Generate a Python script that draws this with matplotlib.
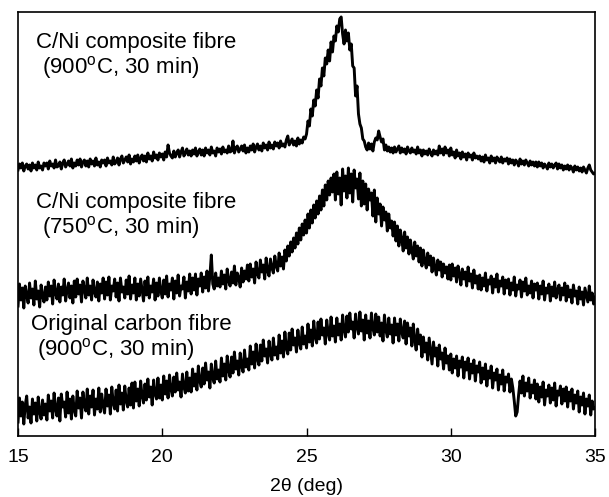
import numpy as np
import matplotlib
matplotlib.use("Agg")
import matplotlib.pyplot as plt

plt.rcParams['font.family'] = ['Liberation Sans', 'DejaVu Sans']
plt.rcParams['mathtext.fontset'] = 'custom'
plt.rcParams['mathtext.rm'] = 'Liberation Sans'

# intensities (arbitrary units, traces already stacked)
# sampled every 0.05 deg from 2theta = 15 to 35
ni_900 = [
    266, 272, 268, 273, 265, 270, 272, 267, 271, 265,
    273, 268, 271, 266, 274, 268, 270, 266, 273, 270,
    273, 267, 275, 270, 272, 268, 276, 269, 270, 274,
    267, 273, 276, 269, 272, 275, 270, 277, 268, 273,
    270, 276, 271, 277, 269, 274, 276, 270, 275, 269,
    277, 272, 275, 270, 278, 271, 274, 269, 276, 273,
    276, 270, 278, 273, 275, 271, 279, 272, 274, 278,
    271, 277, 280, 273, 276, 279, 274, 281, 272, 277,
    274, 280, 275, 281, 273, 278, 281, 275, 280, 274,
    283, 277, 280, 275, 284, 278, 281, 276, 283, 279,
    282, 276, 284, 279, 291, 283, 280, 278, 285, 279,
    283, 286, 279, 284, 288, 280, 283, 287, 281, 285,
    280, 286, 282, 288, 280, 284, 287, 281, 286, 280,
    288, 283, 286, 281, 289, 283, 285, 280, 288, 284,
    287, 282, 289, 284, 286, 283, 290, 284, 285, 295,
    283, 288, 290, 284, 287, 290, 285, 291, 283, 288,
    284, 290, 286, 292, 284, 289, 292, 286, 290, 285,
    293, 288, 291, 286, 294, 288, 291, 287, 294, 290,
    293, 288, 295, 290, 292, 289, 296, 300, 291, 294,
    297, 291, 295, 290, 298, 292, 296, 293, 299, 297,
    302, 315, 310, 327, 320, 336, 330, 346, 338, 357,
    350, 368, 360, 378, 372, 386, 375, 394, 384, 400,
    395, 410, 404, 417, 419, 402, 392, 406, 395, 403,
    386, 392, 370, 368, 340, 350, 322, 312, 308, 297,
    295, 289, 286, 293, 287, 292, 285, 294, 298, 296,
    305, 299, 294, 297, 286, 291, 285, 289, 284, 288,
    283, 289, 284, 287, 290, 283, 288, 284, 287, 282,
    289, 285, 283, 288, 284, 286, 282, 289, 283, 286,
    280, 286, 282, 285, 281, 287, 283, 280, 286, 282,
    285, 281, 290, 283, 287, 281, 289, 283, 286, 280,
    288, 281, 284, 278, 286, 280, 283, 277, 284, 279,
    282, 276, 283, 279, 281, 276, 283, 278, 280, 277,
    280, 275, 279, 274, 281, 276, 278, 273, 280, 275,
    278, 273, 279, 276, 274, 279, 273, 277, 275, 278,
    272, 277, 273, 276, 271, 276, 274, 270, 277, 272,
    275, 271, 276, 273, 270, 275, 271, 274, 270, 274,
    269, 274, 270, 273, 268, 272, 270, 267, 273, 269,
    272, 268, 271, 273, 267, 272, 268, 271, 266, 270,
    267, 271, 266, 270, 268, 264, 270, 266, 269, 265,
    268, 264, 269, 266, 263, 268, 271, 266, 264, 262,
    263,
]

ni_750 = [
    130, 152, 136, 148, 128, 150, 141, 133, 153, 138,
    147, 131, 155, 137, 145, 129, 151, 140, 134, 149,
    136, 154, 140, 150, 132, 156, 143, 137, 152, 134,
    149, 141, 157, 135, 146, 153, 138, 150, 133, 155,
    139, 157, 142, 151, 134, 155, 147, 138, 158, 141,
    150, 136, 156, 144, 139, 154, 135, 152, 143, 158,
    137, 154, 141, 159, 136, 150, 145, 157, 139, 153,
    135, 158, 144, 149, 138, 156, 142, 160, 137, 151,
    143, 158, 136, 152, 140, 157, 146, 135, 155, 141,
    159, 138, 150, 144, 157, 136, 153, 140, 158, 145,
    138, 156, 142, 160, 139, 152, 146, 158, 137, 155,
    143, 161, 140, 150, 147, 159, 138, 154, 145, 162,
    142, 158, 146, 162, 141, 157, 150, 163, 144, 159,
    148, 165, 145, 160, 181, 152, 147, 163, 150, 158,
    149, 165, 152, 161, 147, 167, 155, 150, 164, 153,
    170, 151, 163, 158, 149, 168, 154, 165, 157, 171,
    155, 172, 159, 167, 153, 174, 162, 158, 176, 164,
    171, 157, 178, 165, 160, 177, 168, 163, 180, 170,
    165, 183, 170, 179, 167, 186, 175, 190, 180, 194,
    184, 198, 188, 203, 192, 208, 196, 212, 201, 216,
    203, 222, 208, 226, 213, 231, 218, 235, 222, 240,
    226, 246, 230, 251, 236, 255, 241, 258, 244, 262,
    236, 264, 242, 258, 231, 267, 245, 260, 238, 268,
    243, 262, 234, 266, 248, 257, 237, 263, 230, 255,
    232, 252, 226, 247, 236, 243, 220, 246, 214, 238,
    222, 232, 210, 229, 216, 224, 205, 222, 208, 215,
    200, 214, 195, 210, 190, 206, 197, 185, 204, 188,
    199, 182, 196, 186, 177, 194, 180, 190, 174, 188,
    170, 186, 175, 168, 183, 171, 180, 164, 178, 169,
    161, 176, 166, 174, 159, 172, 163, 169, 157, 171,
    156, 172, 160, 168, 154, 170, 162, 151, 167, 157,
    164, 150, 169, 155, 162, 148, 166, 153, 160, 147,
    161, 146, 158, 150, 163, 145, 156, 152, 160, 143,
    157, 149, 162, 144, 155, 150, 159, 142, 156, 148,
    157, 141, 153, 146, 159, 140, 151, 147, 156, 139,
    154, 145, 158, 141, 150, 143, 155, 138, 152, 146,
    153, 137, 150, 142, 155, 136, 148, 143, 152, 135,
    149, 140, 154, 138, 146, 151, 136, 148, 141, 153,
    135, 150, 139, 146, 133, 151, 140, 145, 132, 149,
    137, 144, 131, 148, 141, 134, 150, 136, 143, 132,
    139,
]

original = [
    14, 38, 20, 34, 12, 31, 40, 18, 29, 13,
    37, 22, 33, 15, 39, 24, 17, 36, 21, 32,
    16, 41, 25, 35, 18, 43, 27, 20, 38, 15,
    42, 29, 34, 19, 44, 23, 37, 17, 40, 26,
    20, 45, 28, 38, 18, 44, 31, 25, 47, 22,
    40, 29, 46, 21, 37, 27, 48, 24, 42, 30,
    23, 47, 30, 41, 22, 49, 33, 27, 46, 25,
    51, 32, 43, 26, 50, 35, 29, 48, 31, 53,
    28, 54, 35, 47, 30, 55, 40, 33, 52, 36,
    57, 39, 49, 31, 56, 42, 37, 58, 38, 51,
    36, 60, 42, 55, 38, 61, 47, 40, 59, 44,
    63, 46, 54, 39, 62, 49, 43, 64, 45, 58,
    44, 67, 50, 62, 46, 70, 55, 49, 68, 52,
    73, 56, 64, 48, 72, 58, 53, 75, 57, 66,
    54, 78, 60, 72, 56, 80, 66, 59, 79, 63,
    84, 67, 75, 61, 83, 70, 64, 86, 69, 77,
    66, 90, 72, 84, 68, 92, 77, 71, 91, 75,
    96, 80, 87, 73, 95, 82, 76, 98, 81, 89,
    77, 101, 83, 95, 79, 104, 88, 82, 103, 86,
    107, 91, 98, 84, 106, 93, 87, 109, 92, 100,
    88, 112, 94, 106, 90, 115, 99, 93, 114, 97,
    117, 101, 108, 92, 116, 103, 96, 119, 100, 110,
    94, 118, 101, 112, 96, 121, 106, 99, 120, 104,
    123, 107, 114, 98, 122, 109, 102, 124, 105, 116,
    96, 121, 103, 115, 98, 123, 108, 101, 122, 104,
    119, 100, 113, 95, 121, 106, 99, 118, 102, 111,
    93, 118, 101, 112, 95, 117, 104, 98, 115, 92,
    113, 100, 108, 90, 112, 96, 86, 107, 92, 101,
    79, 99, 84, 93, 76, 98, 85, 72, 94, 80,
    88, 70, 91, 77, 83, 67, 88, 73, 80, 66,
    82, 63, 77, 68, 80, 60, 75, 69, 79, 58,
    74, 66, 78, 57, 72, 63, 76, 55, 70, 64,
    74, 53, 68, 57, 72, 50, 65, 58, 70, 48,
    63, 56, 67, 46, 61, 52, 66, 45, 59, 54,
    62, 44, 57, 48, 35, 20, 24, 41, 55, 43,
    60, 40, 53, 45, 58, 38, 51, 43, 56, 37,
    52, 34, 49, 39, 54, 31, 46, 40, 51, 33,
    48, 36, 53, 30, 45, 41, 50, 32, 47, 35,
    49, 29, 44, 35, 47, 27, 41, 33, 45, 24,
    39, 31, 43, 22, 37, 30, 41, 21, 35, 27,
    28,
]

labels = [
    "C/Ni composite fibre\n (900$^{\\mathrm{o}}$C, 30 min)",
    "C/Ni composite fibre\n (750$^{\\mathrm{o}}$C, 30 min)",
    "Original carbon fibre\n (900$^{\\mathrm{o}}$C, 30 min)",
]
label_pos = [(15.64, 404), (15.64, 244), (15.44, 122)]

fig = plt.figure(figsize=(6.09, 4.97), dpi=100)
ax = fig.add_axes([0.0296, 0.1227, 0.9475, 0.8532])

for series in (ni_900, ni_750, original):
    two_theta = np.linspace(15, 35, len(series))
    ax.plot(two_theta, series, color='black', lw=2.1)

for txt, (x, y) in zip(labels, label_pos):
    ax.text(x, y, txt, fontsize=16, va='top', ha='left', linespacing=1.05)

ax.set_xlim(15, 35)
ax.set_ylim(0, 424)
ax.set_xticks([15, 20, 25, 30, 35])
ax.set_yticks([])
ax.tick_params(axis='x', direction='in', length=6, width=1, labelsize=14, pad=9)
for s in ax.spines.values():
    s.set_linewidth(1.2)
ax.set_xlabel("2\u03b8 (deg)", fontsize=14, labelpad=9)

fig.savefig("out.png", dpi=100)
